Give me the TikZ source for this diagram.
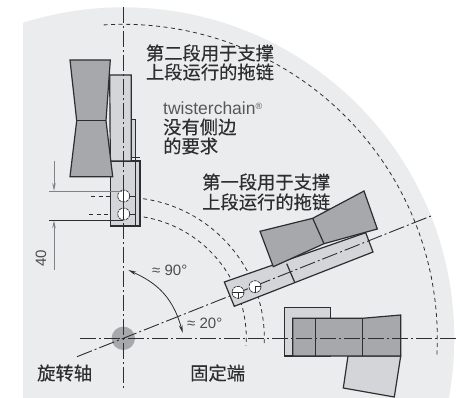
\documentclass[tikz,border=0pt]{standalone}
\usepackage{fontspec}
\setmainfont{Liberation Sans}
\newfontfamily\cjk[FakeBold=0.35]{Noto Sans CJK SC}
\usetikzlibrary{arrows.meta}
\definecolor{bgc}{HTML}{EBECED}
\definecolor{lightc}{HTML}{D3D5D8}
\definecolor{darkc}{HTML}{A7A8AC}
\definecolor{inkc}{HTML}{2E2E30}
\definecolor{dimc}{HTML}{808285}
\tikzset{
  part/.style={draw=inkc,line width=1.2pt,line join=miter},
  lightpart/.style={part,fill=lightc},
  darkpart/.style={part,fill=darkc},
  axisline/.style={draw=inkc,line width=0.9pt,dash pattern=on 16pt off 3pt on 2pt off 3pt},
  guide/.style={draw=inkc,line width=0.8pt,dash pattern=on 4pt off 3.5pt},
  hole/.style={circle,draw=inkc,line width=0.7pt,dash pattern=on 3pt off 0.8pt,fill=white,minimum size=12pt,inner sep=0pt},
  cn/.style={font=\cjk\fontsize{18.3}{20}\selectfont,text=inkc,inner sep=0pt,align=left,anchor=west},
  ang/.style={font=\fontsize{15}{17}\selectfont,text=inkc!85,inner sep=0pt,anchor=west},
  tip/.style={-{Stealth[length=8pt,width=3.5pt]}}
}
\begin{document}
\begin{tikzpicture}[x=1pt,y=-1pt]
\useasboundingbox (0,0) rectangle (460,398);
\coordinate (pv) at (123.3,338.3);
\begin{scope}
  \clip (23,0) rectangle (460,398);
  \fill[bgc] (pv) circle[radius=331];
\end{scope}
% guide arcs
\draw[guide] ([shift={(-93.6:314)}]pv) arc[start angle=-93.6,end angle=3,radius=314];
\draw[guide] ([shift={(-85:141)}]pv) arc[start angle=-85,end angle=3,radius=141];
\draw[guide] ([shift={(-84:123)}]pv) arc[start angle=-84,end angle=3.5,radius=123];
\draw[guide] (91,196) -- (118,196);
\draw[guide] (89,214) -- (118,214);
% vertical chain parts
\draw[lightpart] (110.3,161) rectangle (140,226);
\draw[part] (131.3,119.3) -- (135.7,119.3) -- (135.7,226);
\draw[lightpart] (109.7,75) -- (131.3,75) -- (131.3,161) -- (110.3,161) -- cycle;
\fill[lightc] (131.9,119.9) rectangle (135.1,157.1);
\draw[part] (131.3,157.7) -- (140,157.7);
\draw[darkpart] (70,60) -- (110.3,60) -- (106,120.7) -- (112.7,176.7) -- (70,176.7) -- (76.7,120.7) -- cycle;
\draw[part] (76.7,120.7) -- (106,120.7);
% tilted chain parts
\draw[lightpart] (224.3,282) -- (365.7,232.7) -- (373,252) -- (234.3,306.3) -- cycle;
\draw[part] (286.7,263.7) -- (294.7,282.3);
\draw[darkpart] (260,231.3) -- (312.7,218.3) -- (364,191) -- (377.3,229) -- (324,243.7) -- (273.3,266.7) -- cycle;
\draw[part] (312.7,218.3) -- (324,243.7);
% fixed end parts
\draw[lightpart] (348,356) -- (343.3,388) -- (394.3,397) -- (400.7,356) -- cycle;
\draw[lightpart] (284.7,307.3) rectangle (330.7,356);
\draw[darkpart] (292.7,318.3) -- (362.3,318.3) -- (400.7,315) -- (400.7,356) -- (292.7,356) -- cycle;
\draw[part] (315.7,318.3) -- (315.7,356);
\draw[part] (362.3,318.3) -- (362.3,356);
% pivot
\fill[darkc] (pv) circle[radius=11.7];
% axes
\coordinate (vt) at (123.3,7);
\coordinate (vb) at (123.3,390);
\coordinate (hl) at (80,338.3);
\coordinate (hr) at (456,338.3);
\coordinate (tl) at (77,356.7);
\coordinate (tr) at (433.5,215);
\draw[axisline] (vt) -- (vb);
\draw[axisline] (hl) -- (hr);
\draw[axisline] (tl) -- (tr);
% holes
\node[hole] (h1) at (123.7,196) {};
\node[hole] (h2) at (123.7,214) {};
\node[hole] (h3) at (238,292.3) {};
\node[hole] (h4) at (255,286.7) {};
\draw[inkc,line width=0.8pt] (h1.north) -- (h1.south);
\draw[inkc,line width=0.8pt] (h2.north) -- (h2.south);
\draw[inkc,line width=0.8pt] (h3.center) -- (h3.south);
\draw[inkc,line width=0.8pt] (h3.west) -- (h3.east);
\draw[inkc,line width=0.8pt] (h4.center) -- (h4.east);
\draw[inkc,line width=0.8pt] (h4.center) -- (h4.south);
\draw[inkc,line width=0.8pt] (h1.east) -- (135.7,196);
\draw[inkc,line width=0.8pt] (h2.east) -- (135.7,214);
% dimensions
\coordinate (d1l) at (49,191);
\coordinate (d1r) at (121.7,191);
\coordinate (d2l) at (49,220.3);
\coordinate (d2r) at (123,220.3);
\coordinate (a1s) at (54,160.7);
\coordinate (a1e) at (54,191);
\coordinate (a2s) at (54,270);
\coordinate (a2e) at (54,220.3);
\draw[dimc,line width=0.9pt] (d1l) -- (d1r);
\draw[inkc,line width=0.9pt] (d2l) -- (d2r);
\draw[dimc,line width=1pt,tip] (a1s) -- (a1e);
\draw[dimc,line width=1pt,tip] (a2s) -- (a2e);
% angle arrow
\coordinate (ang1) at (128.3,270);
\coordinate (ang2) at (182.7,333);
\draw[inkc,line width=0.8pt,{Stealth[length=8pt,width=3.5pt]}-{Stealth[length=8pt,width=3.5pt]}] (ang1) .. controls (152,281) and (172,293) .. (ang2);
% labels
\node[cn] (t1) at (145.7,53) {第二段用于支撑};
\node[cn] (t2) at (145.7,72) {上段运行的拖链};
\node[inner sep=0pt,anchor=west,text=inkc!80,font=\fontsize{17.5}{19}\selectfont] (t3) at (163,108) {twisterchain\raisebox{5pt}{\fontsize{9}{9}\selectfont ®}};
\node[cn] (t4) at (163,127) {没有侧边};
\node[cn] (t5) at (163,146) {的要求};
\node[cn] (t6) at (202,182) {第一段用于支撑};
\node[cn] (t7) at (202,202) {上段运行的拖链};
\node[cn] (t8) at (37,373) {旋转轴};
\node[cn] (t9) at (190,373) {固定端};
\node[ang] (t10) at (152,270) {≈ 90°};
\node[ang] (t11) at (187,323) {≈ 20°};
\node[inner sep=0pt,rotate=90,text=inkc!85,font=\fontsize{15}{17}\selectfont] (t12) at (41,258) {40};
\end{tikzpicture}
\end{document}
